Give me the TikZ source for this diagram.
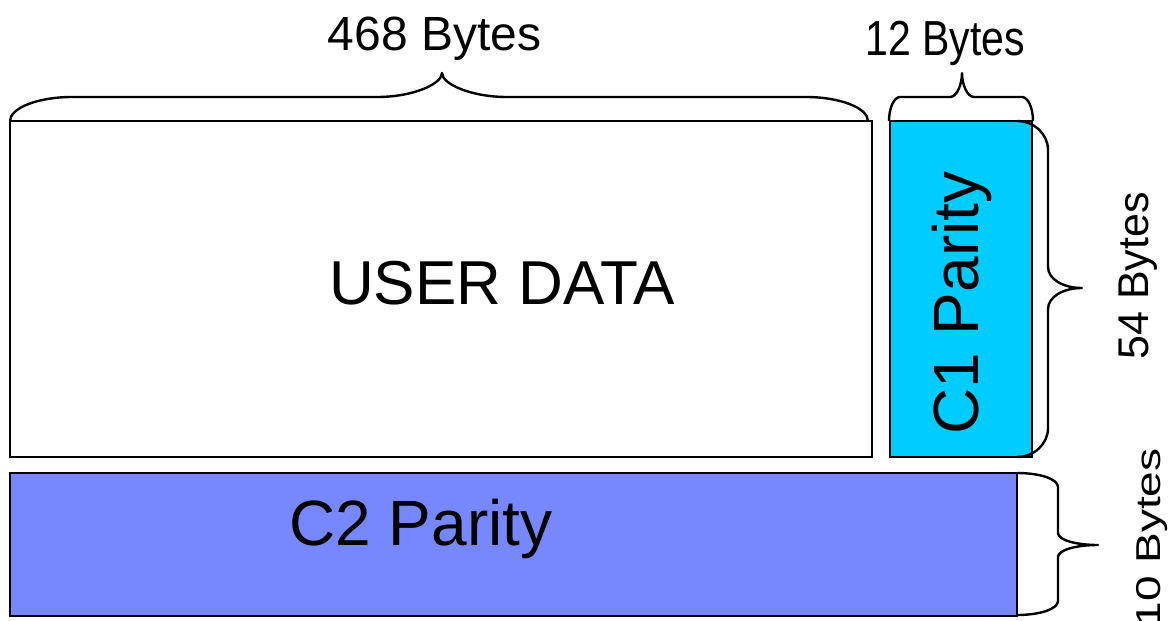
\documentclass[tikz,border=0pt]{standalone}
\usepackage{graphicx}
\usepackage{fontspec}
\setmainfont{Liberation Sans}
\definecolor{cone}{RGB}{0,204,255}
\definecolor{ctwo}{RGB}{119,136,255}
\begin{document}
\begin{tikzpicture}[x=0.5pt,y=-0.5pt,
  blk/.style={draw=black,line width=1.4pt},
  brc/.style={draw=black,line width=1.2pt,line join=round},
  lbl/.style={inner sep=0pt,anchor=base}]
\useasboundingbox (0,0) rectangle (1173,621);
% blocks
\draw[blk,fill=white] (10,121) rectangle (872,457);
\draw[blk,fill=cone] (890,121) rectangle (1032,457);
\draw[blk,fill=ctwo] (10,473) rectangle (1017,616);
% top brace 468
\draw[brc] (10,121) .. controls (10,108) and (38,97) .. (72,97) -- (377,97)
  .. controls (413,97) and (442,84) .. (442,73)
  .. controls (442,84) and (471,97) .. (507,97) -- (806,97)
  .. controls (840,97) and (868,108) .. (868,121);
% top brace 12
\draw[brc] (889,121) .. controls (889,108) and (894,97) .. (900,97) -- (950,97)
  .. controls (957,97) and (962,84) .. (962,73)
  .. controls (962,84) and (967,97) .. (974,97) -- (1022,97)
  .. controls (1028,97) and (1033,108) .. (1033,121);
% right brace 54
\draw[brc] (1017,121) .. controls (1034,121) and (1048,134) .. (1048,150) -- (1048,267)
  .. controls (1048,279) and (1063,288) .. (1082,288)
  .. controls (1063,288) and (1048,297) .. (1048,309) -- (1048,428)
  .. controls (1048,444) and (1034,457) .. (1017,457);
% right brace 10
\draw[brc] (1017,473) .. controls (1040,473) and (1058,479) .. (1058,487) -- (1058,533)
  .. controls (1058,540) and (1076,545) .. (1098,545)
  .. controls (1076,545) and (1058,550) .. (1058,557) -- (1058,601)
  .. controls (1058,609) and (1040,615) .. (1017,615);
% labels
\node[lbl,font=\fontsize{31}{36}\selectfont] (user) at (502,304) {USER DATA};
\node[lbl,font=\fontsize{32}{38}\selectfont] (c2) at (421,545) {C2 Parity};
\node[lbl,font=\fontsize{32}{38}\selectfont,rotate=90] (c1) at (978,303) {C1 Parity};
\node[lbl,font=\fontsize{24}{28}\selectfont] (b468) at (434.5,50) {468 Bytes};
\node[lbl,font=\fontsize{20.5}{24}\selectfont] (b12) at (945,55) {\scalebox{1}[1.2]{12 Bytes}};
\node[lbl,font=\fontsize{21.5}{26}\selectfont,rotate=90] (b54) at (1148,276) {54 Bytes};
\node[lbl,font=\fontsize{23}{27}\selectfont,rotate=90] (b10) at (1160,538) {\scalebox{1}[0.75]{10 Bytes}};
\end{tikzpicture}
\end{document}
